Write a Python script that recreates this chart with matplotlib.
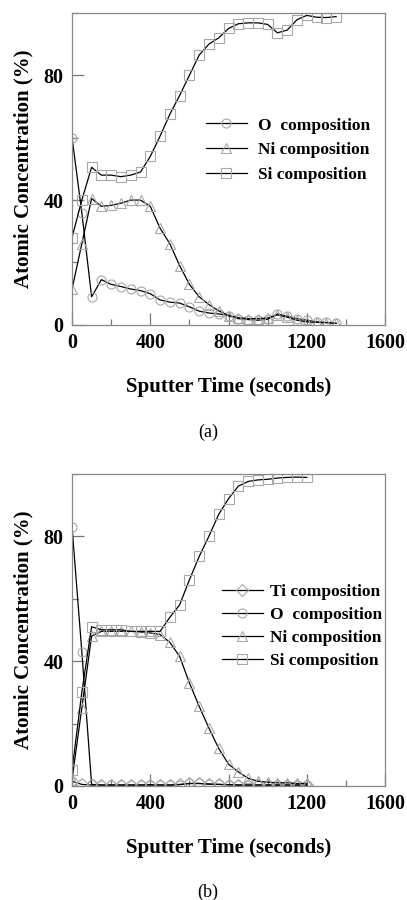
import matplotlib
matplotlib.use("Agg")
import matplotlib.pyplot as plt
from matplotlib.ticker import MultipleLocator

# data

time_a = [0, 50, 100, 150, 200, 250, 300, 350, 400, 450, 500, 550, 600, 650,
          700, 750, 800, 850, 900, 950, 1000, 1050, 1100, 1150, 1200, 1250, 1300, 1350]
o_a = [60, 36, 9, 14.5, 13, 12.3, 11.5, 11, 10, 8, 7.3, 7, 5.8, 4.4,
       3.8, 3.5, 3, 2, 1.7, 1.5, 1.8, 3.5, 2.8, 2, 1.5, 1, 0.8, 0.5]
ni_a = [11.5, 26, 40.5, 38, 38.3, 39, 40, 40, 38, 31, 26, 19, 13, 9,
        6.5, 4.5, 3, 2.3, 2, 2, 2.2, 3.2, 2.5, 1.5, 1, 0.8, 0.7, 0.5]
si_a = [28, 40, 50.5, 48, 48, 47.5, 48, 49, 54, 60.5, 67.5, 73.5, 80, 86.5,
        90, 92, 95, 96.5, 96.8, 96.8, 96.3, 93.6, 94.5, 97.8, 99.2, 98.6, 98.5, 98.8]

time_b = [0, 50, 100, 150, 200, 250, 300, 350, 400, 450, 500, 550, 600,
          650, 700, 750, 800, 850, 900, 950, 1000, 1050, 1100, 1150, 1200]
ti_b = [1.5, 0.5, 0.3, 0.3, 0.3, 0.3, 0.3, 0.3, 0.4, 0.3, 0.3, 0.5, 0.8,
        0.8, 0.6, 0.5, 0.4, 0.3, 0.3, 0.3, 0.3, 0.3, 0.3, 0.3, 0.3]
o_b = [83, 43, 0.5, 0.3, 0.3, 0.3, 0.3, 0.3, 0.3, 0.3, 0.3, 0.4, 0.8,
       0.8, 0.6, 0.5, 0.4, 0.3, 0.3, 0.3, 0.3, 0.3, 0.3, 0.3, 0.3]
ni_b = [2, 25, 48, 49.5, 49.5, 49.5, 49.5, 49.3, 49, 48.5, 46, 41.5, 33,
        25.5, 18.5, 12, 7, 4.5, 2.5, 1.5, 1.2, 1, 1, 0.8, 0.8]
si_b = [5, 30, 51, 50, 50, 50, 49.5, 49.5, 49.5, 49.5, 54, 58, 66,
        73.5, 80, 87, 92, 96, 97.5, 98, 98.2, 98.6, 98.8, 98.9, 98.8]

x_ticks = [0, 400, 800, 1200, 1600]
y_ticks = [0, 40, 80]

FONT = "Liberation Serif"
MARKER_COLOR = "#a8a8a8"


def draw_series(ax, t, c, marker, label):
    ax.plot(t, c, color="black", linewidth=0.9, marker=marker, markersize=6.5,
            markerfacecolor="none", markeredgecolor=MARKER_COLOR,
            markeredgewidth=0.8, label=label)


def style_axes(ax):
    ax.set_xlim(0, 1600)
    ax.set_ylim(0, 100)
    ax.set_xticks(x_ticks)
    ax.set_yticks(y_ticks)
    ax.xaxis.set_minor_locator(MultipleLocator(200))
    ax.yaxis.set_minor_locator(MultipleLocator(20))
    ax.tick_params(which="both", direction="in", top=False, right=False,
                   color="#777777", width=0.9)
    ax.tick_params(which="major", length=8.5, pad=6, labelsize=14.5)
    ax.tick_params(which="minor", length=4.3)
    for lab in ax.get_xticklabels() + ax.get_yticklabels():
        lab.set_fontfamily(FONT)
        lab.set_fontweight("bold")
    for sp in ax.spines.values():
        sp.set_color("#888888")
        sp.set_linewidth(0.9)
    ax.set_xlabel("Sputter Time (seconds)", fontfamily=FONT, fontweight="bold",
                  fontsize=15, labelpad=17)
    ax.set_ylabel("Atomic Concentration (%)", fontfamily=FONT, fontweight="bold",
                  fontsize=15, labelpad=7)


fig = plt.figure(figsize=(4.07, 9.0), dpi=100)

ax1 = fig.add_axes([0.177, 0.639, 0.769, 0.3467])
draw_series(ax1, time_a, o_a, "o", "O  composition")
draw_series(ax1, time_a, ni_a, "^", "Ni composition")
draw_series(ax1, time_a, si_a, "s", "Si composition")
style_axes(ax1)
ax1.legend(loc="upper left", bbox_to_anchor=(0.428, 0.665), frameon=False,
           borderaxespad=0, borderpad=0, numpoints=1, handlelength=2.35,
           handletextpad=0.65, labelspacing=0.5,
           prop={"family": FONT, "weight": "bold", "size": 12.5})

ax2 = fig.add_axes([0.177, 0.1267, 0.769, 0.347])
draw_series(ax2, time_b, ti_b, "D", "Ti composition")
draw_series(ax2, time_b, o_b, "o", "O  composition")
draw_series(ax2, time_b, ni_b, "^", "Ni composition")
draw_series(ax2, time_b, si_b, "s", "Si composition")
style_axes(ax2)
ax2.legend(loc="upper left", bbox_to_anchor=(0.479, 0.648), frameon=False,
           borderaxespad=0, borderpad=0, numpoints=1, handlelength=2.35,
           handletextpad=0.4, labelspacing=0.4,
           prop={"family": FONT, "weight": "bold", "size": 12.5})

fig.text(208 / 407, 1 - 432 / 900, "(a)", ha="center", va="center",
         fontfamily=FONT, fontsize=13)
fig.text(208 / 407, 1 - 892 / 900, "(b)", ha="center", va="center",
         fontfamily=FONT, fontsize=13)

fig.savefig("out.png", dpi=100)
